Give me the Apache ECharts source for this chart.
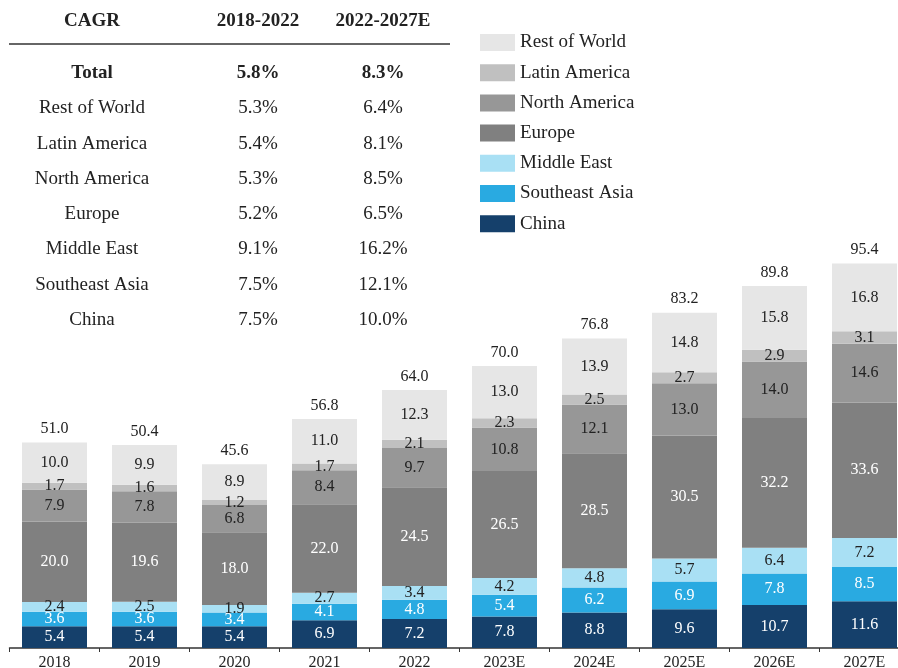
<!DOCTYPE html>
<html><head><meta charset="utf-8">
<script src="https://cdn.jsdelivr.net/npm/echarts@6/dist/echarts.min.js"></script>
<style>html,body{margin:0;padding:0;background:#fff}#c{width:898px;height:668px}</style>
</head><body><div id="c"></div>
<script>
const categories = ['2018','2019','2020','2021','2022','2023E','2024E','2025E','2026E','2027E'];
const china        = [5.4,5.4,5.4,6.9,7.2,7.8,8.8,9.6,10.7,11.6];
const southeastAsia= [3.6,3.6,3.4,4.1,4.8,5.4,6.2,6.9,7.8,8.5];
const middleEast   = [2.4,2.5,1.9,2.7,3.4,4.2,4.8,5.7,6.4,7.2];
const europe       = [20.0,19.6,18.0,22.0,24.5,26.5,28.5,30.5,32.2,33.6];
const northAmerica = [7.9,7.8,6.8,8.4,9.7,10.8,12.1,13.0,14.0,14.6];
const latinAmerica = [1.7,1.6,1.2,1.7,2.1,2.3,2.5,2.7,2.9,3.1];
const restOfWorld  = [10.0,9.9,8.9,11.0,12.3,13.0,13.9,14.8,15.8,16.8];
const totals       = [51.0,50.4,45.6,56.8,64.0,70.0,76.8,83.2,89.8,95.4];

const cagrHeader = ['CAGR','2018-2022','2022-2027E'];
const cagrRegions = ['Total','Rest of World','Latin America','North America','Europe','Middle East','Southeast Asia','China'];
const cagr1822 = ['5.8%','5.3%','5.4%','5.3%','5.2%','9.1%','7.5%','7.5%'];
const cagr2227 = ['8.3%','6.4%','8.1%','8.5%','6.5%','16.2%','12.1%','10.0%'];

const FONT = 'Liberation Serif';
const seriesDefs = [
  ['China', china, '#15406b', '#ffffff'],
  ['Southeast Asia', southeastAsia, '#29aae1', '#ffffff'],
  ['Middle East', middleEast, '#a9e0f4', '#222222'],
  ['Europe', europe, '#808080', '#ffffff'],
  ['North America', northAmerica, '#979797', '#222222'],
  ['Latin America', latinAmerica, '#c0c0c0', '#222222'],
  ['Rest of World', restOfWorld, '#e6e6e6', '#222222']
];

const series = seriesDefs.map(([name, data, color, lc]) => ({
  name, type: 'bar', stack: 'total', data, barWidth: 65,
  itemStyle: { color },
  label: { show: true, position: 'inside', color: lc, fontFamily: FONT, fontSize: 16,
           formatter: p => p.value.toFixed(1) },
  emphasis: { disabled: true }
}));
series.push({
  name: 'Total', type: 'line', data: totals, symbol: 'circle', symbolSize: 1,
  itemStyle: { color: 'rgba(0,0,0,0)' },
  lineStyle: { opacity: 0 }, silent: true,
  label: { show: true, position: 'top', distance: 5, color: '#222', fontFamily: FONT, fontSize: 16,
           formatter: p => p.value.toFixed(1) },
  labelLayout: { hideOverlap: false }
});

const graphic = [];
const colX = [92, 258, 383];
cagrHeader.forEach((t, i) => graphic.push({
  type: 'text', x: colX[i], y: 21,
  style: { text: t, font: 'bold 19px ' + FONT, fill: '#222', textAlign: 'center', textVerticalAlign: 'middle' }
}));
graphic.push({ type: 'line', shape: { x1: 9, y1: 44, x2: 450, y2: 44 }, style: { stroke: '#333', lineWidth: 1.5 } });
cagrRegions.forEach((r, i) => {
  const y = 73 + i * 35.3;
  const w = i === 0 ? 'bold ' : '';
  [r, cagr1822[i], cagr2227[i]].forEach((t, j) => graphic.push({
    type: 'text', x: colX[j], y,
    style: { text: t, font: w + '19px ' + FONT, fill: '#222', textAlign: 'center', textVerticalAlign: 'middle' }
  }));
});

const chart = echarts.init(document.getElementById('c'));
chart.setOption({
  animation: false,
  grid: { left: 9.5, width: 900, top: 245, bottom: 20, containLabel: false, outerBoundsMode: 'none' },
  legend: {
    orient: 'vertical', left: 480, top: 33, padding: 0, itemWidth: 35, itemHeight: 17, itemGap: 11.2,
    icon: 'rect', textStyle: { fontFamily: FONT, fontSize: 19, color: '#222' },
    data: ['Rest of World','Latin America','North America','Europe','Middle East','Southeast Asia','China'],
    selectedMode: false
  },
  xAxis: {
    type: 'category', data: categories,
    axisLine: { lineStyle: { color: '#333', width: 1.5 } },
    axisTick: { show: true, length: 4, lineStyle: { color: '#333' } },
    axisLabel: { color: '#222', fontFamily: FONT, fontSize: 16, margin: 7 }
  },
  yAxis: { type: 'value', min: 0, max: 100, show: false, splitLine: { show: false } },
  graphic,
  series
});
</script></body></html>
